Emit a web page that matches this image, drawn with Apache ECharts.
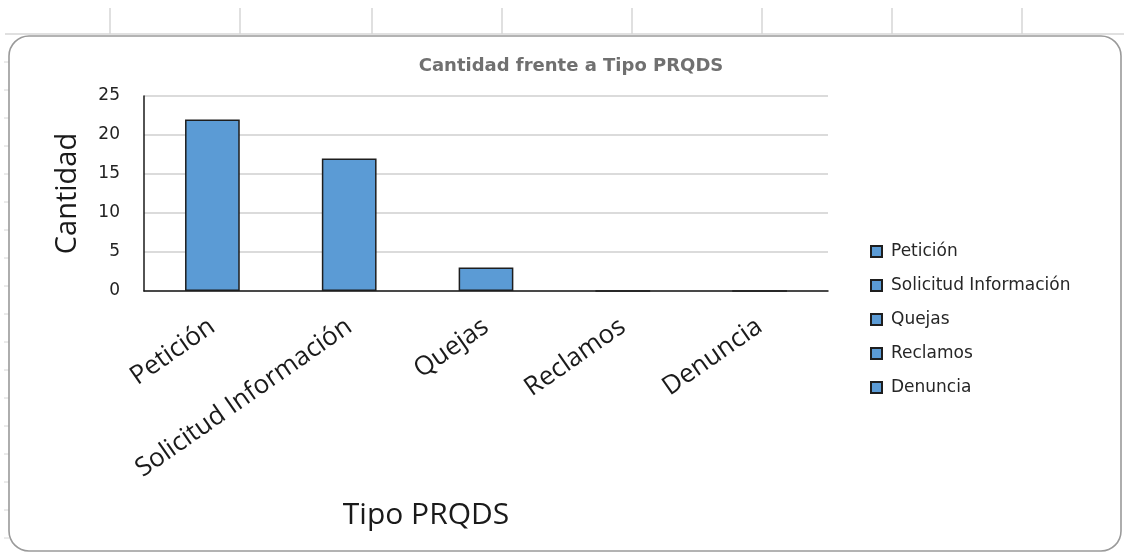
<!DOCTYPE html>
<html>
<head>
<meta charset="utf-8">
<script src="https://cdn.jsdelivr.net/npm/echarts@6/dist/echarts.min.js"></script>
<style>
  html, body { margin: 0; padding: 0; background: #ffffff; }
  #chart { width: 1124px; height: 555px; }
</style>
</head>
<body>
<div id="chart"></div>
<script>
// Chart content
const chartTitle = 'Cantidad frente a Tipo PRQDS';
const xAxisTitle = 'Tipo PRQDS';
const yAxisTitle = 'Cantidad';
const categories = ['Petición', 'Solicitud Información', 'Quejas', 'Reclamos', 'Denuncia'];
const cantidad = [22, 17, 3, 0, 0];
const yMin = 0;
const yMax = 25;
const yStep = 5;

// Worksheet cell borders behind the chart object
const sheetColumnEdges = [110, 240, 372, 502, 632, 762, 892, 1022];
const sheetLine = '#d6d6d6';

const sheetGraphics = [];
sheetGraphics.push({
  type: 'line', silent: true, z: -10,
  shape: { x1: 5, y1: 34, x2: 1124, y2: 34 },
  style: { stroke: sheetLine, lineWidth: 1.5 }
});
sheetColumnEdges.forEach(x => {
  sheetGraphics.push({
    type: 'line', silent: true, z: -10,
    shape: { x1: x, y1: 8, x2: x, y2: 34 },
    style: { stroke: sheetLine, lineWidth: 1.5 }
  });
});
for (let y = 62; y < 552; y += 28) {
  sheetGraphics.push({
    type: 'line', silent: true, z: -10,
    shape: { x1: 4, y1: y, x2: 9, y2: y },
    style: { stroke: sheetLine, lineWidth: 1 }
  });
}
// Chart area frame with rounded corners
sheetGraphics.push({
  type: 'rect', silent: true, z: -5,
  shape: { x: 9, y: 36, width: 1112, height: 515, r: 20 },
  style: { fill: '#ffffff', stroke: '#9a9a9a', lineWidth: 1.6 }
});

// One stacked series per type so that each bar stays centred in its slot
// and the legend lists every type.
const series = categories.map((name, i) => ({
  name: name,
  type: 'bar',
  stack: 'tipo',
  barWidth: '40%',
  data: cantidad.map((v, j) => (j === i ? v : '-')),
  itemStyle: { color: '#5b9bd5', borderColor: '#1e1e1e', borderWidth: 1.5 },
  emphasis: { disabled: true }
}));

const chart = echarts.init(document.getElementById('chart'), null, { renderer: 'canvas' });
chart.setOption({
  backgroundColor: '#ffffff',
  animation: false,
  graphic: sheetGraphics,
  title: {
    text: chartTitle,
    left: 566,
    textAlign: 'center',
    top: 52,
    textStyle: {
      fontFamily: 'DejaVu Sans',
      fontWeight: 'bold',
      fontSize: 18,
      color: '#707070'
    }
  },
  grid: { left: 144, right: 296, top: 96, bottom: 264 },
  legend: {
    orient: 'vertical',
    left: 865,
    top: 238,
    icon: 'rect',
    itemWidth: 11,
    itemHeight: 11,
    itemGap: 17,
    selectedMode: false,
    data: categories,
    textStyle: {
      fontFamily: 'DejaVu Sans',
      fontSize: 17,
      lineHeight: 16,
      color: '#262626',
      padding: [0, 0, 0, 4]
    }
  },
  xAxis: {
    type: 'category',
    data: categories,
    name: xAxisTitle,
    nameLocation: 'middle',
    nameGap: 209,
    nameTextStyle: {
      fontFamily: 'Open Sans',
      fontSize: 30,
      color: '#1a1a1a',
      padding: [0, 120, 0, 0]
    },
    axisLine: { show: true, lineStyle: { color: '#1a1a1a', width: 1.5 } },
    axisTick: { show: false },
    axisLabel: {
      interval: 0,
      rotate: 35,
      margin: 33,
      fontFamily: 'Open Sans',
      fontSize: 26,
      color: '#1a1a1a'
    },
    splitLine: { show: false }
  },
  yAxis: {
    type: 'value',
    min: yMin,
    max: yMax,
    interval: yStep,
    name: yAxisTitle,
    nameLocation: 'middle',
    nameGap: 62,
    nameTextStyle: {
      fontFamily: 'Open Sans',
      fontSize: 29,
      color: '#1a1a1a'
    },
    axisLine: { show: true, lineStyle: { color: '#1a1a1a', width: 1.5 } },
    axisTick: { show: false },
    axisLabel: {
      margin: 24,
      fontFamily: 'DejaVu Sans',
      fontSize: 17,
      color: '#222222'
    },
    splitLine: { show: true, lineStyle: { color: '#cfcfcf', width: 1.5 } }
  },
  series: series
});
</script>
</body>
</html>
